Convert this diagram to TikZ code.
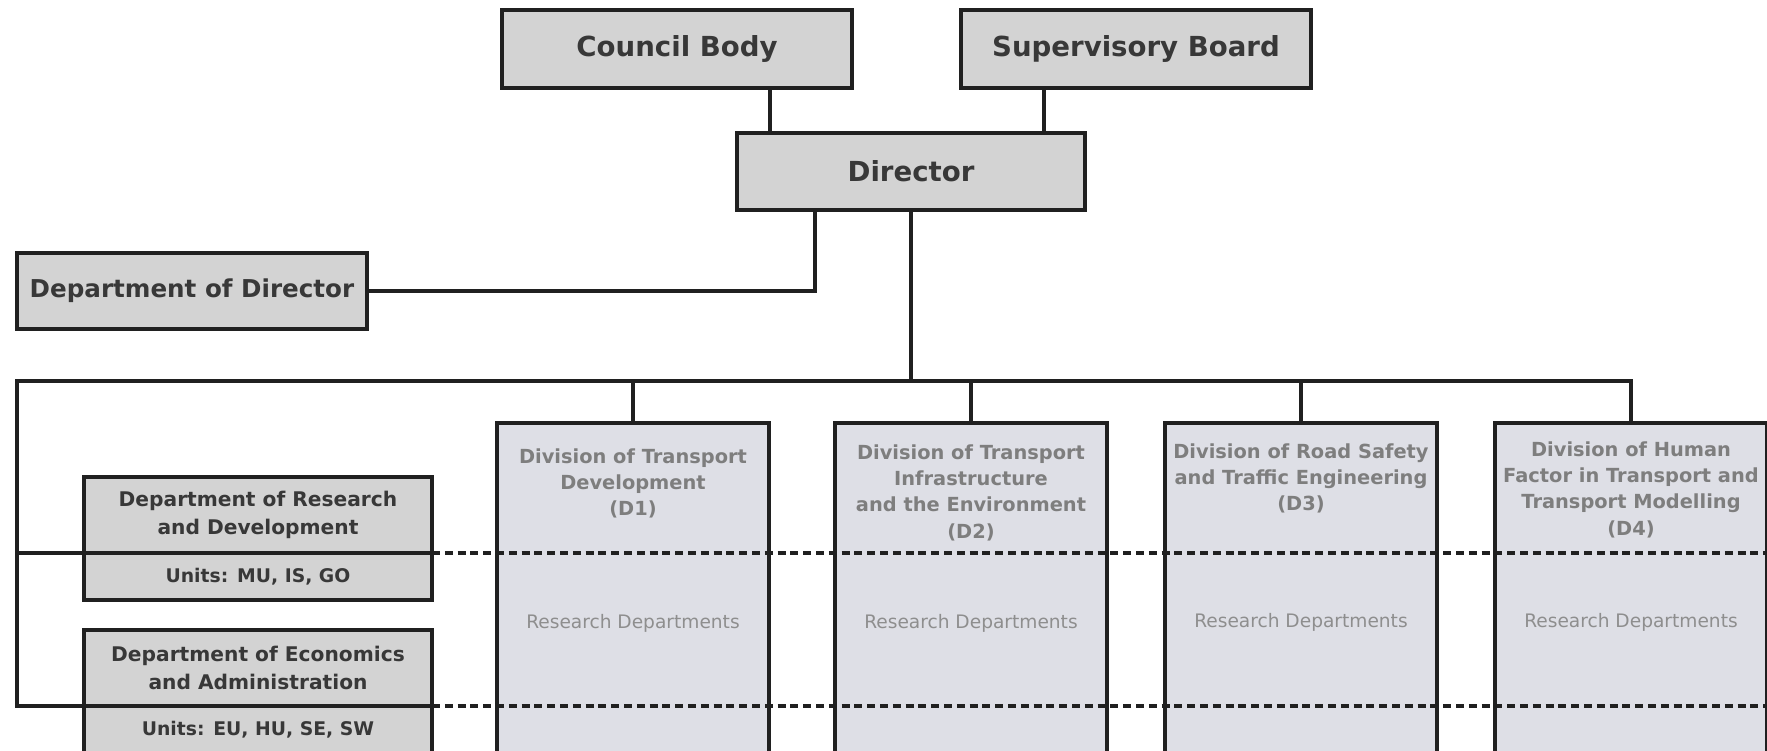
\documentclass[tikz,border=0pt]{standalone}
\usepackage{fontspec}
\setmainfont{DejaVu Sans}
\usepackage{tikz}
\usetikzlibrary{positioning}
\definecolor{boxline}{HTML}{202020}
\definecolor{topgray}{HTML}{D3D3D3}
\definecolor{divgray}{HTML}{DEDFE6}
\definecolor{toptext}{HTML}{383838}
\definecolor{divtext}{HTML}{7E7E7E}
\definecolor{restext}{HTML}{8E8E8E}
\tikzset{
    topbox/.style={draw=boxline, line width=2pt, fill=topgray, text=toptext,
        inner sep=0pt, outer sep=0pt, minimum width=175pt,
        font=\bfseries\fontsize{13.8}{16}\selectfont},
    unitbox/.style={draw=boxline, line width=2pt, fill=topgray, text=toptext,
        inner sep=0pt, outer sep=0pt, minimum width=174pt, align=center,
        font=\bfseries\fontsize{10.1}{14}\selectfont},
    divbox/.style={draw=boxline, line width=2pt, fill=divgray,
        inner sep=0pt, outer sep=0pt, minimum width=136pt, minimum height=190pt},
    divtitle/.style={text=divtext, align=center, inner sep=0pt,
        font=\bfseries\fontsize{9.7}{13.2}\selectfont},
    research/.style={text=restext, inner sep=0pt, font=\fontsize{9.3}{11}\selectfont},
    link/.style={draw=boxline, line width=1.6pt},
    dashline/.style={draw=boxline, line width=1.9pt, dash pattern=on 4pt off 2.4pt}
}

\begin{document}
\begin{tikzpicture}[x=0.5pt, y=-0.5pt]
        \useasboundingbox (0,0) rectangle (1767,750);

        \node [topbox, minimum height=39pt] (CouncilBody) at (677,49) {Council Body};
        \node [topbox, minimum height=39pt, right=54.5pt of CouncilBody] (SupervisoryBoard) {Supervisory Board};
        \node [topbox, minimum width=174pt, minimum height=38.5pt] (Director) at (911,171.5) {Director};
        \node [topbox, minimum height=38pt, font=\bfseries\fontsize{12.3}{14}\selectfont] (DeptDirector) at (192,291) {Department of Director};

        \node [divbox] (D1) at (633,613) {};
        \node [divbox, right=33pt of D1] (D2) {};
        \node [divbox, right=29pt of D2] (D3) {};
        \node [divbox, right=29pt of D3] (D4) {};

        \node [divtitle, below=12.5pt of D1.north] (D1Title) {Division of Transport\\Development\\(D1)};
        \node [divtitle, below=10.5pt of D2.north] (D2Title) {Division of Transport\\Infrastructure\\and the Environment\\(D2)};
        \node [divtitle, below=10pt of D3.north] (D3Title) {Division of Road Safety\\and Traffic Engineering\\(D3)};
        \node [divtitle, below=9pt of D4.north] (D4Title) {Division of Human\\Factor in Transport and\\Transport Modelling\\(D4)};

        \node [research] (D1Research) at ([yshift=-100pt]D1.north) {Research Departments};
        \node [research] (D2Research) at ([yshift=-100pt]D2.north) {Research Departments};
        \node [research] (D3Research) at ([yshift=-99.5pt]D3.north) {Research Departments};
        \node [research] (D4Research) at ([yshift=-99.5pt]D4.north) {Research Departments};

        \node [unitbox, minimum height=38pt] (RDTop) at (258,515) {Department of Research\\and Development};
        \node [unitbox, minimum height=23.5pt, below=0pt of RDTop, font=\bfseries\fontsize{9.4}{11}\selectfont] (RDUnits) {Units: MU, IS, GO};
        \node [unitbox, minimum height=38pt, below=15pt of RDUnits] (EconTop) {Department of Economics\\and Administration};
        \node [unitbox, minimum height=23.5pt, below=0pt of EconTop, font=\bfseries\fontsize{9.4}{11}\selectfont] (EconUnits) {Units: EU, HU, SE, SW};

        \coordinate (BusLeft) at (17,381);

        \draw [link] ([xshift=-70.5pt]Director.north) -- ([xshift=-70.5pt]Director.north |- CouncilBody.south);
        \draw [link] ([xshift=66.5pt]Director.north) -- ([xshift=66.5pt]Director.north |- SupervisoryBoard.south);
        \draw [link] ([xshift=-48pt]Director.south) |- (DeptDirector.east);
        \draw [link] (Director.south) -- (Director.south |- BusLeft);

        \draw [link] (D4.north) |- (BusLeft) |- (EconTop.south west);
        \draw [link] (D1.north) -- (D1.north |- BusLeft);
        \draw [link] (D2.north) -- (D2.north |- BusLeft);
        \draw [link] (D3.north) -- (D3.north |- BusLeft);

        \draw [link] (BusLeft |- RDTop.south) -- (RDTop.south west);
        \draw [dashline] (RDTop.south east) -- (RDTop.south east -| D4.east);
        \draw [dashline] (EconTop.south east) -- (EconTop.south east -| D4.east);
    \end{tikzpicture}
\end{document}
